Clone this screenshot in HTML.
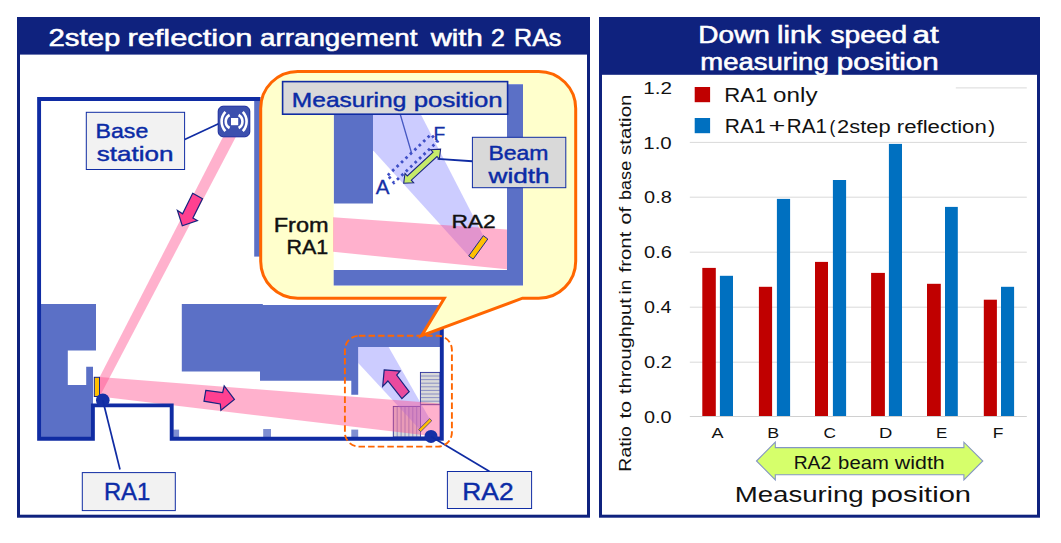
<!DOCTYPE html>
<html lang="en">
<head>
<meta charset="utf-8">
<title>2step reflection arrangement with 2 RAs</title>
<style>
html,body{margin:0;padding:0;background:#fff;}
body{width:1061px;height:543px;overflow:hidden;}
svg{display:block;}
text{font-family:"Liberation Sans","Noto Sans CJK JP",sans-serif;}
.hd{fill:#fff;stroke:#fff;stroke-width:.55;}
.lb{fill:#0b2ba6;stroke:#0b2ba6;stroke-width:.42;}
.nv{fill:#1530a6;stroke:#1530a6;stroke-width:.3;}
.bk{fill:#111;}
.bm{fill:#111;stroke:#111;stroke-width:.4;}
</style>
</head>
<body>
<svg width="1061" height="543" viewBox="0 0 1061 543">
<rect width="1061" height="543" fill="#fff"/>

<!-- ============ LEFT PANEL ============ -->
<g id="left-panel">
<rect x="18.5" y="18.5" width="570" height="497.7" fill="#fff" stroke="#0f227e" stroke-width="3"/>
<rect x="17" y="17" width="573" height="37.6" fill="#0f227e"/>
<text class="hd" y="46" font-size="24"><tspan x="48.51" textLength="71.78" lengthAdjust="spacingAndGlyphs">2step</tspan> <tspan x="127.45" textLength="124.96" lengthAdjust="spacingAndGlyphs">reflection</tspan> <tspan x="260.02" textLength="157.50" lengthAdjust="spacingAndGlyphs">arrangement</tspan> <tspan x="430.70" textLength="52.12" lengthAdjust="spacingAndGlyphs">with</tspan> <tspan x="491.13" textLength="13.89" lengthAdjust="spacingAndGlyphs">2</tspan> <tspan x="514.09" textLength="47.26" lengthAdjust="spacingAndGlyphs">RAs</tspan></text>
<!-- floor plan -->
<g id="floor">
<path fill="#5b70c6" d="M41,304 H96 V350.5 H67.8 V385 H86.2 V366.7 H93 V438 H41 Z"/>
<path fill="#5b70c6" d="M181.8,304 H262.8 V305 H441 V347 H358.2 V394.7 H351.3 V380.7 H260 V371.4 H181.8 Z"/>
<rect x="254.2" y="100" width="7" height="156.6" fill="#5b70c6"/>
<rect x="173.3" y="429.6" width="5.8" height="8" fill="#7f8fd2"/>
<rect x="263.2" y="429" width="7.8" height="8.5" fill="#7f8fd2"/>
<rect x="351.3" y="429.6" width="6.9" height="8" fill="#7f8fd2"/>
<g id="stairs">
<rect x="420.4" y="372.4" width="19.6" height="32.4" fill="#d9d9d9" stroke="#2a2f99" stroke-width=".9"/>
<path stroke="#4a52b0" stroke-width=".55" fill="none" d="M420.4,376.0H440M420.4,379.6H440M420.4,383.2H440M420.4,386.8H440M420.4,390.4H440M420.4,394.0H440M420.4,397.6H440M420.4,401.2H440"/>
<rect x="393.3" y="406.4" width="27.2" height="30.6" fill="#d9d9d9" stroke="#2a2f99" stroke-width=".9"/>
<path stroke="#4a52b0" stroke-width=".55" fill="none" d="M397.2,406.4V437M401.1,406.4V437M405.0,406.4V437M408.9,406.4V437M412.8,406.4V437M416.7,406.4V437"/>
<rect x="420.5" y="404.8" width="19.5" height="32.2" fill="#fff" stroke="#2a2f99" stroke-width=".7"/>
</g>
<path fill="#8080ff" fill-opacity=".4" d="M358.2,347 H388.6 L430.5,420.2 L420.5,430.3 L358.2,363 Z"/>
<path fill="#ff4a8c" fill-opacity=".43" d="M223,137 H235.8 L99.7,396.6 V377 Z"/>
<path fill="#ff4a8c" fill-opacity=".43" d="M99.7,377 L440,403.5 V437 L99.7,396.6 Z"/>
<path fill="none" stroke="#102ca3" stroke-width="3.9" stroke-linejoin="miter" d="M260.5,99 H39.1 V438.8 H92.9 V405.4 H171.7 V438.8 H441.8 V304"/>
</g>
<g fill="#ff4090" stroke="#17237f" stroke-width="1.2" stroke-linejoin="miter">
<path d="M192.7,193.3 L202.5,198.8 L192.9,218 L197.4,220.6 L182.3,225.8 L177.4,210.4 L182.6,213.8 Z"/>
<path d="M205.8,390.3 L222.7,392.5 L224.2,386 L234.4,399.5 L220.9,410.3 L220.3,404 L204,401.2 Z"/>
<path fill="#e94a9e" d="M384.2,369.9 L400.1,371.1 L396.7,375.1 L409.2,391.7 L401.9,398.6 L387.9,381 L382.7,386.3 Z"/>
</g>
<rect x="94.3" y="377.3" width="5.2" height="19.2" fill="#ffc000" stroke="#17237f" stroke-width="1"/>
<circle cx="102.8" cy="400.3" r="6.8" fill="#1530a6"/>
<path d="M418.6,429.6 L429.7,418.6 L431.8,420.7 L420.7,431.7 Z" fill="#ffc000" stroke="#4a3a80" stroke-width=".8"/>
<circle cx="431" cy="436.4" r="6.5" fill="#1530a6"/>
<g stroke="#102ca3" stroke-width="1.7" fill="none">
<path d="M102.8,400.3 L120,469.5"/>
<path d="M431,436.4 L489.6,471.5"/>
<path d="M184.7,139.5 L218.5,123.8"/>
</g>
<g fill="#f2f2f2" stroke="#102ca3" stroke-width="1">
<rect x="82.3" y="472.6" width="93" height="38"/>
<rect x="447.4" y="471.5" width="84.2" height="37"/>
<rect x="86.3" y="112.3" width="98.3" height="57.2"/>
</g>
<text class="lb" y="500.4" font-size="24.6"><tspan x="103.93" textLength="46.30" lengthAdjust="spacingAndGlyphs">RA1</tspan></text>
<text class="lb" y="499.6" font-size="24.4"><tspan x="462.33" textLength="51.22" lengthAdjust="spacingAndGlyphs">RA2</tspan></text>
<text class="lb" y="137.8" font-size="20.3"><tspan x="95.58" textLength="52.72" lengthAdjust="spacingAndGlyphs">Base</tspan></text>
<text class="lb" y="160.9" font-size="20.3"><tspan x="96.76" textLength="76.71" lengthAdjust="spacingAndGlyphs">station</tspan></text>
<g id="bs-icon">
<rect x="218.2" y="106.2" width="31.6" height="30.6" rx="5" ry="5" fill="#3c50ae" stroke="#15269a" stroke-width="1"/>
<rect x="231" y="118" width="7.2" height="7.2" fill="#fff"/>
<g fill="none" stroke="#fff" stroke-width="2.6">
<path d="M229.6,115 A7.4,7.4 0 0 0 229.6,128"/>
<path d="M225.4,111.8 A14.3,14.3 0 0 0 225.4,131.2"/>
<path d="M238.6,115 A7.4,7.4 0 0 1 238.6,128"/>
<path d="M242.8,111.8 A14.3,14.3 0 0 1 242.8,131.2"/>
</g>
</g>
<rect x="344.9" y="335.8" width="107" height="110.8" rx="14" ry="14" fill="none" stroke="#ff6600" stroke-width="1.9" stroke-dasharray="6.5 3.1"/>
<g id="callout">
<path fill="#ffffcc" stroke="#ff6600" stroke-width="3" stroke-linejoin="miter" d="M297.7,71.4 H538.7 A37,37 0 0 1 575.7,108.4 V261.2 A37,37 0 0 1 538.7,298.2 H522.5 L421.6,335.7 L444.3,298.2 H297.7 A37,37 0 0 1 260.7,261.2 V108.4 A37,37 0 0 1 297.7,71.4 Z"/>
<rect x="333.7" y="84" width="189.3" height="201.7" fill="#fff"/>
<path fill="#5b70c6" d="M333.9,84 H373 V203.5 H333.9 Z"/>
<path fill="#5b70c6" d="M507,84.2 H523 V285.6 H333.7 V270 H507 Z"/>
<path fill="#8080ff" fill-opacity=".4" d="M373,84 H405.2 L483,235.3 L469.5,256.8 L373,150.2 Z"/>
<path fill="#ff4a8c" fill-opacity=".43" d="M333.1,217.2 L507,229.6 V269.3 L333.1,251.8 Z"/>
<path d="M483.3,235.7 L487.8,239 L473.2,259.1 L468.7,255.9 Z" fill="#ffc000" stroke="#1c2a86" stroke-width="1"/>
<path d="M387.8,175.3 L431,134.5 L437.4,141.6 L393.9,182.8 Z" fill="none" stroke="#3f4fc6" stroke-width="2.8" stroke-dasharray="2.6 3.5"/>
<path d="M400.3,114.5 L411.6,153.2" stroke="#4658c2" stroke-width="1.3" fill="none"/>
<path d="M472.3,161.3 L437.6,158.9" stroke="#102ca3" stroke-width="1.9" fill="none"/>
<path d="M403.7,183.2 L405.0,173.4 L407.3,175.9 L433.0,152.2 L430.7,149.7 L440.6,149.2 L439.3,159.0 L437.0,156.5 L411.3,180.2 L413.6,182.7 Z" fill="#c6ea6a" stroke="#17237f" stroke-width="1.1" stroke-linejoin="miter"/>
<rect x="282.6" y="81.6" width="225" height="32.6" fill="#d9d9d9" stroke="#102ca3" stroke-width="1.6"/>
<clipPath id="mpclip"><rect x="283" y="82" width="224.2" height="31.4"/></clipPath>
<text class="lb" y="107.3" font-size="20.2" clip-path="url(#mpclip)"><tspan x="291.87" textLength="114.50" lengthAdjust="spacingAndGlyphs">Measuring</tspan> <tspan x="413.80" textLength="88.75" lengthAdjust="spacingAndGlyphs">position</tspan></text>
<rect x="472.4" y="137.3" width="93.4" height="50.4" fill="#d9d9d9" stroke="#102ca3" stroke-width="1"/>
<text class="lb" y="159.5" font-size="19.6"><tspan x="488.49" textLength="60.03" lengthAdjust="spacingAndGlyphs">Beam</tspan></text>
<text class="lb" y="182.7" font-size="19.6"><tspan x="488.62" textLength="60.95" lengthAdjust="spacingAndGlyphs">width</tspan></text>
<text class="nv" y="194" font-size="20.4"><tspan x="375.65" textLength="13.71" lengthAdjust="spacingAndGlyphs">A</tspan></text>
<text class="nv" y="140.4" font-size="19.2"><tspan x="433.62" textLength="11.80" lengthAdjust="spacingAndGlyphs">F</tspan></text>
<text class="bm" y="227.6" font-size="19"><tspan x="451.40" textLength="44.29" lengthAdjust="spacingAndGlyphs">RA2</tspan></text>
<text class="bm" y="232" font-size="19.5"><tspan x="273.74" textLength="54.93" lengthAdjust="spacingAndGlyphs">From</tspan></text>
<text class="bm" y="254" font-size="19.5"><tspan x="286.50" textLength="41.72" lengthAdjust="spacingAndGlyphs">RA1</tspan></text>
</g>
</g>
<!-- ============ RIGHT PANEL ============ -->
<g id="right-panel">
<rect x="600.5" y="18.5" width="438" height="497.7" fill="#fff" stroke="#0f227e" stroke-width="3"/>
<rect x="599" y="17" width="441" height="57.8" fill="#0f227e"/>
<text class="hd" y="43.4" font-size="23"><tspan x="698.36" textLength="71.57" lengthAdjust="spacingAndGlyphs">Down</tspan> <tspan x="777.03" textLength="43.67" lengthAdjust="spacingAndGlyphs">link</tspan> <tspan x="830.47" textLength="76.65" lengthAdjust="spacingAndGlyphs">speed</tspan> <tspan x="912.46" textLength="26.28" lengthAdjust="spacingAndGlyphs">at</tspan></text>
<text class="hd" y="69.5" font-size="23"><tspan x="700.36" textLength="128.33" lengthAdjust="spacingAndGlyphs">measuring</tspan> <tspan x="836.73" textLength="101.90" lengthAdjust="spacingAndGlyphs">position</tspan></text>
<g stroke="#d9d9d9" stroke-width="1" fill="none">
<path d="M689.8,87.9 H1026.8"/>
<path d="M689.8,142.4 H1026.8"/>
<path d="M689.8,197.2 H1026.8"/>
<path d="M689.8,252.2 H1026.8"/>
<path d="M689.8,307.2 H1026.8"/>
<path d="M689.8,362.2 H1026.8"/>
</g>
<rect x="689" y="80" width="266.8" height="58" fill="#fff"/>
<rect x="702.3" y="267.9" width="13.5" height="148.6" fill="#c00000"/>
<rect x="719.9" y="275.8" width="13.1" height="140.7" fill="#0070c0"/>
<rect x="758.9" y="286.8" width="13.2" height="129.7" fill="#c00000"/>
<rect x="776.9" y="198.9" width="13.2" height="217.6" fill="#0070c0"/>
<rect x="815.0" y="261.9" width="13.0" height="154.6" fill="#c00000"/>
<rect x="832.9" y="180.0" width="13.2" height="236.5" fill="#0070c0"/>
<rect x="871.1" y="272.9" width="13.8" height="143.6" fill="#c00000"/>
<rect x="888.9" y="143.9" width="13.1" height="272.6" fill="#0070c0"/>
<rect x="927.0" y="283.8" width="13.8" height="132.7" fill="#c00000"/>
<rect x="945.0" y="206.9" width="12.8" height="209.6" fill="#0070c0"/>
<rect x="983.8" y="299.7" width="13.1" height="116.8" fill="#c00000"/>
<rect x="1001.0" y="286.8" width="13.1" height="129.7" fill="#0070c0"/>
<path d="M689.8,416.5 H1026.8" stroke="#d0d0d0" stroke-width="1" fill="none"/>
<text class="bk" y="94.1" font-size="16.8"><tspan x="643.25" textLength="28.74" lengthAdjust="spacingAndGlyphs">1.2</tspan></text>
<text class="bk" y="148.6" font-size="16.8"><tspan x="643.26" textLength="28.46" lengthAdjust="spacingAndGlyphs">1.0</tspan></text>
<text class="bk" y="203.4" font-size="16.8"><tspan x="644.05" textLength="27.74" lengthAdjust="spacingAndGlyphs">0.8</tspan></text>
<text class="bk" y="258.4" font-size="16.8"><tspan x="644.05" textLength="27.82" lengthAdjust="spacingAndGlyphs">0.6</tspan></text>
<text class="bk" y="313.4" font-size="16.8"><tspan x="644.06" textLength="27.47" lengthAdjust="spacingAndGlyphs">0.4</tspan></text>
<text class="bk" y="368.4" font-size="16.8"><tspan x="644.05" textLength="27.91" lengthAdjust="spacingAndGlyphs">0.2</tspan></text>
<text class="bk" y="422.7" font-size="16.8"><tspan x="644.05" textLength="27.65" lengthAdjust="spacingAndGlyphs">0.0</tspan></text>
<text class="bk" y="437.9" font-size="15.3"><tspan x="711.40" textLength="12.01" lengthAdjust="spacingAndGlyphs">A</tspan></text>
<text class="bk" y="437.9" font-size="15.3"><tspan x="767.39" textLength="11.91" lengthAdjust="spacingAndGlyphs">B</tspan></text>
<text class="bk" y="437.9" font-size="15.3"><tspan x="823.64" textLength="12.46" lengthAdjust="spacingAndGlyphs">C</tspan></text>
<text class="bk" y="437.9" font-size="15.3"><tspan x="878.94" textLength="13.33" lengthAdjust="spacingAndGlyphs">D</tspan></text>
<text class="bk" y="437.9" font-size="15.3"><tspan x="936.07" textLength="11.24" lengthAdjust="spacingAndGlyphs">E</tspan></text>
<text class="bk" y="437.9" font-size="15.3"><tspan x="992.72" textLength="10.68" lengthAdjust="spacingAndGlyphs">F</tspan></text>
<rect x="694.7" y="87" width="15.4" height="15.2" fill="#c00000"/>
<rect x="694.7" y="118" width="15.4" height="15.2" fill="#0070c0"/>
<text class="bk" y="102" font-size="20.8"><tspan x="724.25" textLength="43.01" lengthAdjust="spacingAndGlyphs">RA1</tspan> <tspan x="773.09" textLength="44.41" lengthAdjust="spacingAndGlyphs">only</tspan></text>
<text class="bk" y="132.9" font-size="20.8"><tspan x="724.84" textLength="40.76" lengthAdjust="spacingAndGlyphs">RA1</tspan><tspan x="768.48" textLength="16.87" lengthAdjust="spacingAndGlyphs">+</tspan><tspan x="786.87" textLength="40.12" lengthAdjust="spacingAndGlyphs">RA1</tspan></text>
<text class="bk" y="132.9" font-size="18"><tspan x="829.59" textLength="5.78" lengthAdjust="spacingAndGlyphs">(</tspan><tspan x="837.11" textLength="53.46" lengthAdjust="spacingAndGlyphs">2step</tspan> <tspan x="896.82" textLength="89.91" lengthAdjust="spacingAndGlyphs">reflection</tspan><tspan x="988.31" textLength="6.89" lengthAdjust="spacingAndGlyphs">)</tspan></text>
<text class="bk" y="0" font-size="17.3" transform="translate(630.9,470.1) rotate(-90)"><tspan x="-1.54" textLength="45.30" lengthAdjust="spacingAndGlyphs">Ratio</tspan> <tspan x="51.53" textLength="17.70" lengthAdjust="spacingAndGlyphs">to</tspan> <tspan x="76.05" textLength="95.79" lengthAdjust="spacingAndGlyphs">throughput</tspan> <tspan x="175.63" textLength="14.79" lengthAdjust="spacingAndGlyphs">in</tspan> <tspan x="197.65" textLength="40.80" lengthAdjust="spacingAndGlyphs">front</tspan> <tspan x="245.29" textLength="18.29" lengthAdjust="spacingAndGlyphs">of</tspan> <tspan x="270.17" textLength="39.11" lengthAdjust="spacingAndGlyphs">base</tspan> <tspan x="315.09" textLength="60.54" lengthAdjust="spacingAndGlyphs">station</tspan></text>
<path d="M756.5,461 L775.3,442.2 V447.6 H963.9 V442.2 L982.8,461 L963.9,479.9 V474.7 H775.3 V479.9 Z" fill="#d6ff6b" stroke="#8496c4" stroke-width="1.1" stroke-linejoin="miter"/>
<text class="bk" y="468.9" font-size="18.9"><tspan x="793.67" textLength="37.55" lengthAdjust="spacingAndGlyphs">RA2</tspan> <tspan x="838.13" textLength="50.73" lengthAdjust="spacingAndGlyphs">beam</tspan> <tspan x="894.89" textLength="49.89" lengthAdjust="spacingAndGlyphs">width</tspan></text>
<text class="bk" y="501.5" font-size="22.3"><tspan x="734.71" textLength="128.95" lengthAdjust="spacingAndGlyphs">Measuring</tspan> <tspan x="870.68" textLength="100.40" lengthAdjust="spacingAndGlyphs">position</tspan></text>
</g>
</svg>
</body>
</html>
